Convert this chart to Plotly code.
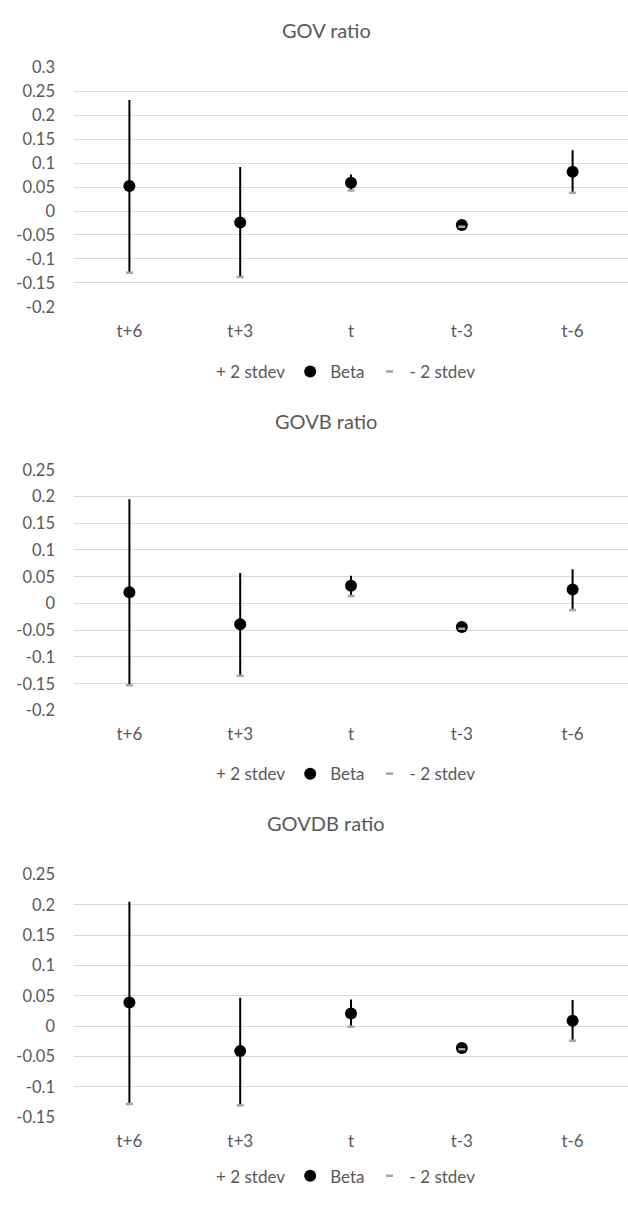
import plotly.graph_objects as go

categories = ["t+6", "t+3", "t", "t-3", "t-6"]

titles = ["GOV ratio", "GOVB ratio", "GOVDB ratio"]

gov_high = [0.232, 0.092, 0.076, -0.026, 0.127]
gov_beta = [0.052, -0.024, 0.059, -0.029, 0.082]
gov_low = [-0.129, -0.138, 0.043, -0.033, 0.038]

govb_high = [0.195, 0.057, 0.052, -0.041, 0.064]
govb_beta = [0.021, -0.039, 0.033, -0.044, 0.026]
govb_low = [-0.153, -0.135, 0.014, -0.047, -0.012]

govdb_high = [0.205, 0.047, 0.044, -0.034, 0.043]
govdb_beta = [0.039, -0.041, 0.021, -0.036, 0.009]
govdb_low = [-0.128, -0.130, -0.001, -0.038, -0.024]

gov_ticks = [0.3, 0.25, 0.2, 0.15, 0.1, 0.05, 0, -0.05, -0.1, -0.15, -0.2]
govb_ticks = [0.25, 0.2, 0.15, 0.1, 0.05, 0, -0.05, -0.1, -0.15, -0.2]
govdb_ticks = [0.25, 0.2, 0.15, 0.1, 0.05, 0, -0.05, -0.1, -0.15]

legend_names = ["+ 2 stdev", "Beta", "- 2 stdev"]

W, H = 628, 1205
FONT = "Lato"
TXT = "#595959"

panels = [
    (gov_high, gov_beta, gov_low, gov_ticks, (58.3, 301.8), 20, 368),
    (govb_high, govb_beta, govb_low, govb_ticks, (467.5, 712.3), 418, 777),
    (govdb_high, govdb_beta, govdb_low, govdb_ticks, (879.0, 1126.0), 827, 1186),
]

def fy(px):
    return 1 - px / H

fig = go.Figure()
layout = dict(
    width=W, height=H, margin=dict(l=0, r=0, t=0, b=0),
    paper_bgcolor="white", plot_bgcolor="white",
    font=dict(family=FONT, size=17, color=TXT),
    annotations=[],
)

for i, (hi, be, lo, ticks, (ytop, ybot), title_y, leg_y) in enumerate(panels):
    n = "" if i == 0 else str(i + 1)
    xa, ya = "x" + n, "y" + n
    leg = "legend" + n
    err_plus = [h - b for h, b in zip(hi, be)]
    err_minus = [b - l for b, l in zip(be, lo)]
    fig.add_trace(go.Scatter(
        x=categories, y=hi, mode="markers", name=legend_names[0],
        marker=dict(size=8, color="rgba(0,0,0,0)"),
        xaxis=xa, yaxis=ya, legend=leg, hoverinfo="skip"))
    fig.add_trace(go.Scatter(
        x=categories, y=be, mode="markers", name=legend_names[1],
        marker=dict(size=12, color="black"),
        error_y=dict(type="data", array=err_plus, arrayminus=err_minus,
                     symmetric=False, width=0, thickness=2, color="black"),
        xaxis=xa, yaxis=ya, legend=leg))
    fig.add_trace(go.Scatter(
        x=categories, y=lo, mode="markers", name=legend_names[2],
        marker=dict(symbol="line-ew", size=5, line=dict(width=2.5, color="#a5a5a5"),
                    color="#a5a5a5"),
        xaxis=xa, yaxis=ya, legend=leg))
    layout["xaxis" + n] = dict(
        domain=[74 / W, 1.0], range=[-0.5, 4.5], type="category",
        anchor=ya, showgrid=False, showline=False, zeroline=False,
        ticks="", ticklabelstandoff=12,
        tickfont=dict(family=FONT, size=17, color=TXT))
    layout["yaxis" + n] = dict(
        domain=[fy(ybot), fy(ytop)], range=[min(ticks), max(ticks)],
        anchor=xa, tickvals=ticks, ticktext=[f"{v:g}" for v in ticks],
        showgrid=True, gridcolor="#d9d9d9", gridwidth=1.3,
        zeroline=False, showline=False, ticks="", ticklabelstandoff=18,
        tickfont=dict(family=FONT, size=16.5, color=TXT))
    layout[leg] = dict(
        orientation="h", x=176 / W, xanchor="left", y=fy(leg_y), yanchor="middle",
        font=dict(family=FONT, size=17, color=TXT), bgcolor="rgba(0,0,0,0)",
        traceorder="normal", itemclick=False, itemdoubleclick=False)
    layout["annotations"].append(dict(
        text=titles[i], x=326 / W, y=fy(title_y), xref="paper", yref="paper",
        xanchor="center", yanchor="middle", showarrow=False,
        font=dict(family=FONT, size=20, color=TXT)))

fig.update_layout(**layout)
fig.update_layout(showlegend=True)
fig.write_html("out.html")
